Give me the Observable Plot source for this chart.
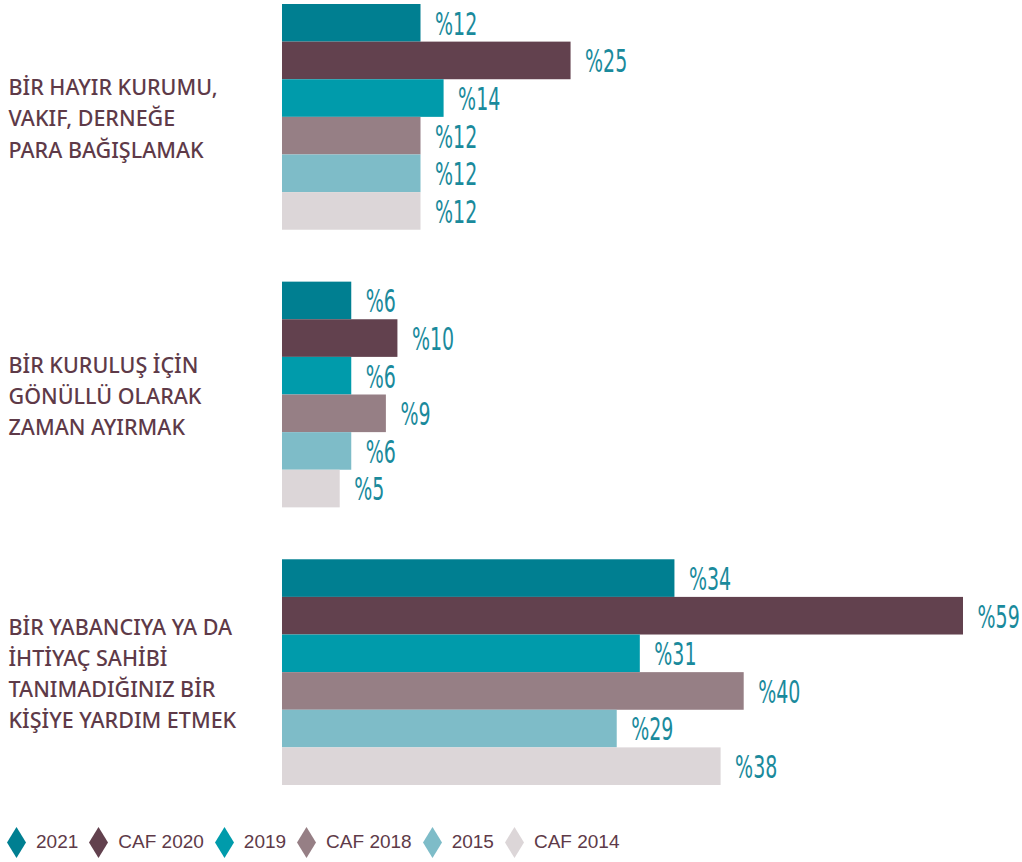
<!DOCTYPE html>
<html>
<head>
<meta charset="utf-8">
<script src="https://cdn.jsdelivr.net/npm/d3@7"></script>
<script src="https://cdn.jsdelivr.net/npm/@observablehq/plot@0.6"></script>
<style>
  body { margin: 0; background: #fff; }
  #legend { display: flex; align-items: center; height: 40px; margin-top: 22px; padding-left: 7px;
    font-family: "Liberation Sans", Arial, sans-serif; font-size: 19px; color: #5e3a48; }
  .item { display: flex; align-items: center; margin-right: 11px; }
  .item svg { margin-right: 10px; }
</style>
</head>
<body>
<div id="chart"></div>
<div id="legend"></div>
<script>
const categories = [
  "BİR HAYIR KURUMU,\nVAKIF, DERNEĞE\nPARA BAĞIŞLAMAK",
  "BİR KURULUŞ İÇİN\nGÖNÜLLÜ OLARAK\nZAMAN AYIRMAK",
  "BİR YABANCIYA YA DA\nİHTİYAÇ SAHİBİ\nTANIMADIĞINIZ BİR\nKİŞİYE YARDIM ETMEK"
];
const series = ["2021", "CAF 2020", "2019", "CAF 2018", "2015", "CAF 2014"];
const colors = ["#007f91", "#62414e", "#009bab", "#967f85", "#7ebcc8", "#dcd6d8"];
const values2021 = [12, 6, 34];
const valuesCAF2020 = [25, 10, 59];
const values2019 = [14, 6, 31];
const valuesCAF2018 = [12, 9, 40];
const values2015 = [12, 6, 29];
const valuesCAF2014 = [12, 5, 38];

const seriesValues = [values2021, valuesCAF2020, values2019, valuesCAF2018, values2015, valuesCAF2014];
const data = [];
categories.forEach((c, i) => {
  series.forEach((s, j) => data.push({category: c, series: s, value: seriesValues[j][i]}));
});

const xMax = 59 * (1022 - 282) / (963 - 282);
const squeeze = 0.65;

const chart = Plot.plot({
  width: 1022,
  height: 800,
  marginLeft: 282,
  marginRight: 0,
  marginTop: 4,
  marginBottom: 15,
  x: {domain: [0, xMax], axis: null},
  y: {domain: series, padding: 0, round: false, axis: null},
  fy: {domain: categories, paddingInner: 0.187, paddingOuter: 0, round: false, axis: null},
  color: {domain: series, range: colors},
  marks: [
    Plot.barX(data, {x: "value", y: "series", fy: "category", fill: "series"}),
    Plot.text(data, {
      x: "value", y: "series", fy: "category", text: d => "%" + d.value,
      textAnchor: "start", dx: 14, dy: 1, fill: "#1a8a9c",
      fontFamily: "'DejaVu Sans Condensed', 'DejaVu Sans', sans-serif",
      fontSize: 32.5, fontWeight: 200, className: "vlabel"
    }),
    Plot.text(categories, {
      fy: d => d, text: d => d, frameAnchor: "left", textAnchor: "start", dx: -274, dy: -1,
      fill: "#5e3a48", fontFamily: "'Noto Sans', sans-serif", fontSize: 21.5, fontWeight: 500,
      lineHeight: 1.45
    })
  ]
});
document.getElementById("chart").append(chart);

// condense the value labels horizontally (no condensed font installed)
chart.querySelectorAll(".vlabel text").forEach(el => {
  const x = el.getAttribute("x");
  if (x != null) el.setAttribute("x", +x / squeeze);
  const t = el.getAttribute("transform") || "";
  el.setAttribute("transform", t + ` scale(${squeeze},1)`);
});

const legend = document.getElementById("legend");
series.forEach((s, i) => {
  const item = document.createElement("div");
  item.className = "item";
  item.innerHTML = `<svg width="19" height="31"><polygon points="9.5,0 19,15.5 9.5,31 0,15.5" fill="${colors[i]}"/></svg><span>${s}</span>`;
  legend.append(item);
});
</script>
</body>
</html>
